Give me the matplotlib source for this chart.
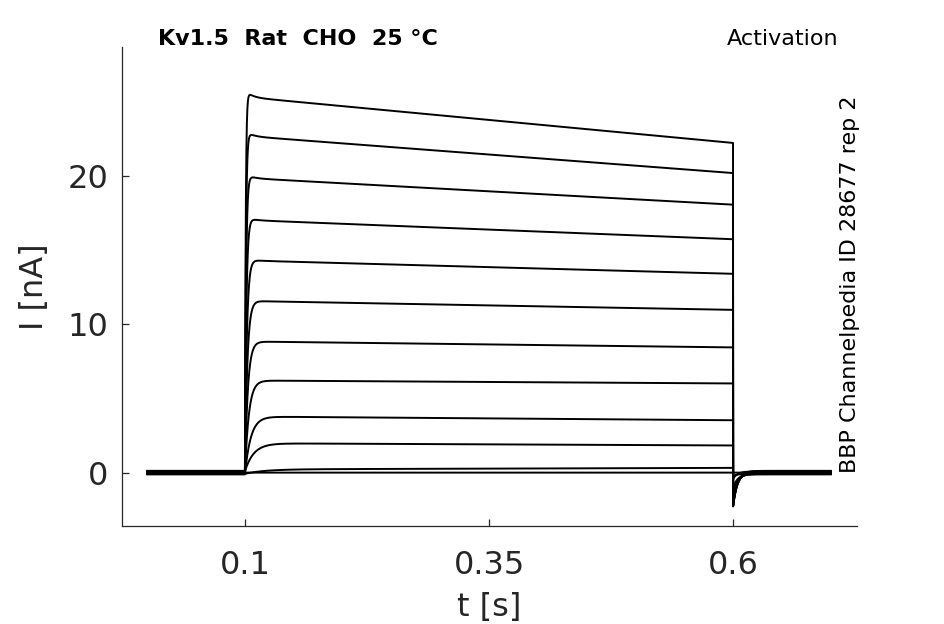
import numpy as np
import matplotlib
matplotlib.use('Agg')
import matplotlib.pyplot as plt

# protocol timing [s]
t_start = 0.0
t_on = 0.1
t_off = 0.6
t_end = 0.7

# per-trace values [nA], top trace first
i_early = [25.2, 22.6, 19.8, 17.0, 14.3, 11.6, 8.9, 6.3, 3.9, 1.9, 0.30, 0.0]
i_late = [22.1, 20.1, 18.0, 15.7, 13.4, 11.0, 8.5, 6.1, 3.65, 1.75, 0.40, 0.0]
overshoot = [0.5, 0.4, 0.35, 0.3, 0.25, 0.1, 0.0, 0.0, 0.0, 0.0, 0.0, 0.0]
tau_rise = [0.0008, 0.001, 0.0012, 0.0015, 0.002, 0.0025, 0.003, 0.004,
            0.006, 0.009, 0.02, 0.02]
tail_peak = [-2.4, -2.35, -2.3, -2.2, -2.0, -1.8, -1.5, -1.2, -0.9, -0.5, -0.15, 0.0]
baseline = [0.12, 0.09, 0.06, 0.03, 0.0, -0.03, -0.06, -0.09, -0.12, 0.08, -0.08, 0.0]

xticks = [0.1, 0.35, 0.6]
xtick_labels = ['0.1', '0.35', '0.6']
yticks = [0, 10, 20]

t = np.linspace(t_start, t_end, 7001)

fig = plt.figure(figsize=(9.45, 6.24), dpi=100)
ax = fig.add_axes([0.129, 0.157, 0.778, 0.768])

for k in range(len(i_early)):
    y = np.full_like(t, baseline[k])
    on = (t >= t_on) & (t < t_off)
    s = t[on] - t_on
    plateau = i_early[k] + (i_late[k] - i_early[k]) * s / (t_off - t_on)
    rise = 1 - np.exp(-s / tau_rise[k])
    y[on] = baseline[k] + plateau * rise + overshoot[k] * np.exp(-s / 0.006) * rise
    off = t >= t_off
    s2 = t[off] - t_off
    y[off] = baseline[k] + tail_peak[k] * np.exp(-s2 / 0.0045)
    ax.plot(t, y, color='black', lw=1.4)

ax.set_xlim(-0.026, 0.727)
ax.set_ylim(-3.6, 28.7)
ax.set_xticks(xticks)
ax.set_xticklabels(xtick_labels)
ax.set_yticks(yticks)

gray = '#262626'
for side in ['top', 'right']:
    ax.spines[side].set_visible(False)
for side in ['left', 'bottom']:
    ax.spines[side].set_color(gray)
    ax.spines[side].set_linewidth(0.9)
ax.tick_params(direction='in', length=5, width=0.9, colors=gray,
               labelsize=23)
ax.tick_params(axis='x', pad=17)
ax.tick_params(axis='y', pad=10)
ax.set_xlabel('t [s]', fontsize=23, color=gray, labelpad=8)
ax.set_ylabel('I [nA]', fontsize=23, color=gray, labelpad=12)

fig.text(0.167, 0.938, 'Kv1.5  Rat  CHO  25 °C', fontsize=16, weight='bold',
         ha='left', va='center')
fig.text(0.887, 0.938, 'Activation', fontsize=16, ha='right', va='center')
fig.text(0.900, 0.544, 'BBP Channelpedia ID 28677 rep 2', fontsize=16,
         rotation=90, ha='center', va='center')

plt.savefig('out.png', dpi=100)
